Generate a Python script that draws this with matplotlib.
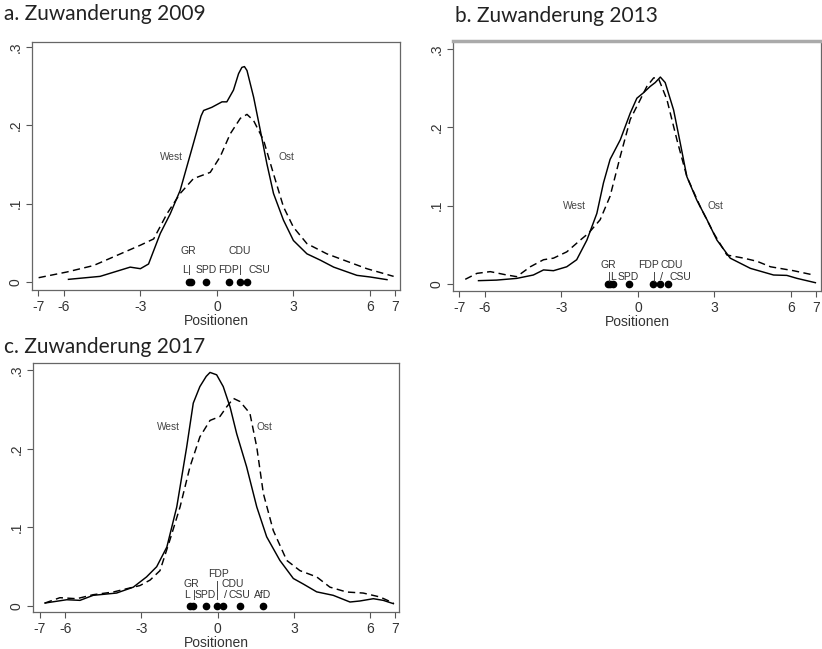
import matplotlib.pyplot as plt
import numpy as np

# Panel a: Zuwanderung 2009
west09_x = [-5.82, -4.58, -3.4, -3.0, -2.68, -2.22, -1.83, -1.44, -0.92, -0.62, -0.52, -0.2, 0.2, 0.39,
            0.65, 0.85, 0.98, 1.08, 1.18, 1.44, 1.7, 1.96, 2.22, 2.61, 3.0, 3.53, 4.05, 4.58, 5.49, 6.01, 6.67]
west09_y = [0.0034, 0.0072, 0.019, 0.017, 0.023, 0.062, 0.087, 0.117, 0.177, 0.212, 0.219, 0.223, 0.230, 0.230,
            0.245, 0.266, 0.274, 0.275, 0.270, 0.236, 0.194, 0.151, 0.113, 0.079, 0.053, 0.036, 0.028, 0.019,
            0.0085, 0.0064, 0.003]
ost09_x = [-6.99, -5.88, -4.84, -3.92, -3.0, -2.48, -1.96, -1.44, -0.92, -0.26, 0.13, 0.52, 0.92,
           1.18, 1.44, 1.83, 2.22, 2.61, 3.0, 3.53, 4.31, 4.97, 5.88, 6.93]
ost09_y = [0.0055, 0.0128, 0.021, 0.034, 0.047, 0.055, 0.087, 0.113, 0.132, 0.140, 0.160, 0.189, 0.209,
           0.214, 0.206, 0.181, 0.138, 0.096, 0.070, 0.049, 0.036, 0.028, 0.017, 0.0072]
party09_x = [-1.11, -1.02, -0.42, 0.47, 0.89, 1.19]

# Panel b: Zuwanderung 2013
west13_x = [-6.25, -5.54, -4.75, -4.1, -3.7, -3.31, -2.79, -2.4, -2.0, -1.61, -1.35, -1.09, -0.69, -0.3,
            -0.04, 0.22, 0.48, 0.68, 0.88, 1.07, 1.4, 1.66, 1.92, 2.31, 2.71, 3.1, 3.62, 4.41, 5.32,
            5.84, 6.24, 6.96]
west13_y = [0.0043, 0.005, 0.0072, 0.0115, 0.018, 0.017, 0.022, 0.031, 0.056, 0.090, 0.129, 0.159, 0.184,
            0.218, 0.237, 0.244, 0.252, 0.257, 0.264, 0.257, 0.222, 0.180, 0.137, 0.107, 0.082, 0.056,
            0.033, 0.020, 0.0115, 0.011, 0.0072, 0.0017]
ost13_x = [-6.77, -6.31, -5.79, -5.14, -4.75, -4.22, -3.7, -3.31, -2.79, -2.26, -1.93, -1.48, -1.09,
           -0.69, -0.3, 0.09, 0.35, 0.62, 0.81, 1.14, 1.53, 1.92, 2.44, 2.97, 3.49, 4.15, 4.67, 5.2,
           6.1, 6.89]
ost13_y = [0.006, 0.0136, 0.0158, 0.0115, 0.0094, 0.022, 0.031, 0.033, 0.041, 0.056, 0.065, 0.082, 0.112,
           0.163, 0.210, 0.235, 0.252, 0.263, 0.262, 0.235, 0.184, 0.137, 0.099, 0.065, 0.037, 0.033,
           0.029, 0.022, 0.017, 0.0115]
party13_x = [-1.19, -1.08, -0.99, -0.35, 0.61, 0.85, 1.2]

# Panel c: Zuwanderung 2017
west17_x = [-6.8, -5.94, -5.42, -4.9, -3.98, -3.32, -2.8, -2.4, -2.0, -1.61, -1.22, -0.96, -0.7, -0.45,
            -0.3, -0.04, 0.22, 0.49, 0.75, 1.14, 1.54, 1.93, 2.45, 2.98, 3.37, 3.9, 4.55, 5.21, 5.6, 6.13,
            6.52, 6.92]
west17_y = [0.0038, 0.008, 0.0072, 0.0136, 0.0165, 0.024, 0.037, 0.050, 0.075, 0.126, 0.202, 0.258,
            0.279, 0.292, 0.297, 0.294, 0.279, 0.253, 0.219, 0.177, 0.126, 0.088, 0.058, 0.035, 0.028,
            0.018, 0.0136, 0.0051, 0.0064, 0.0093, 0.0072, 0.003]
ost17_x = [-6.8, -6.21, -5.55, -4.9, -4.11, -3.58, -3.06, -2.66, -2.27, -1.88, -1.48, -1.09, -0.7, -0.3,
           0.09, 0.35, 0.62, 0.88, 1.27, 1.54, 1.8, 2.19, 2.72, 3.24, 3.9, 4.42, 5.08, 5.73, 6.39, 6.92]
ost17_y = [0.0038, 0.0106, 0.0093, 0.0144, 0.0178, 0.022, 0.026, 0.033, 0.045, 0.084, 0.126, 0.177,
           0.215, 0.236, 0.241, 0.253, 0.264, 0.260, 0.245, 0.202, 0.143, 0.096, 0.058, 0.045, 0.037,
           0.024, 0.0178, 0.0165, 0.0115, 0.0038]
party17_x = [-1.09, -0.98, -0.47, -0.04, 0.2, 0.88, 1.77]

xticks = [-7, -6, -3, 0, 3, 6, 7]
yticks = [0, 0.1, 0.2, 0.3]
ytick_labels = ['0', '.1', '.2', '.3']

# label text, x, y
labels09 = [('GR', -1.11, 0.040), ('L', -1.24, 0.015), ('SPD', -0.42, 0.015), ('FDP', 0.47, 0.015),
            ('CDU', 0.89, 0.040), ('CSU', 1.67, 0.015)]
labels13 = [('GR', -1.15, 0.024), ('L', -0.98, 0.0094), ('SPD', -0.37, 0.0094), ('FDP', 0.42, 0.024),
            ('CDU', 1.33, 0.024), ('CSU', 1.66, 0.0094)]
labels17 = [('GR', -1.02, 0.028), ('L', -1.22, 0.0136), ('SPD', -0.5, 0.0136), ('FDP', 0.03, 0.041),
            ('CDU', 0.58, 0.028), ('CSU', 0.85, 0.0136), ('AfD', 1.77, 0.0136)]
# connector glyphs between stacked labels
marks09 = [('|', -1.08, 0.015), ('|', 0.92, 0.015)]
marks13 = [('|', -1.13, 0.0094), ('|', 0.64, 0.0094), ('/', 0.94, 0.0094)]
marks17 = [('|', -0.93, 0.0136), ('|', -0.02, 0.0136), ('|', -0.02, 0.026), ('/', 0.33, 0.0136)]

W, H = 822, 649
fig = plt.figure(figsize=(W / 100, H / 100), dpi=100)
plt.rcParams['font.family'] = ['Liberation Sans', 'DejaVu Sans']


def panel(box, xlim, ylim, wx, wy, ox, oy, party, labels, marks, wpos, opos, title, tpos, top_grey=False):
    l, t, r, b = box
    ax = fig.add_axes([l / W, 1 - b / H, (r - l) / W, (b - t) / H])
    ax.plot(wx, wy, color='black', lw=1.05)
    ax.plot(ox, oy, color='black', lw=1.05, ls=(0, (5, 3)))
    ax.plot(party, [0] * len(party), 'o', color='black', ms=4.5)
    for s, x, y in labels:
        ax.text(x, y, s, fontsize=7.5, color='#333333', ha='center', va='center')
    for s, x, y in marks:
        ax.text(x, y, s, fontsize=8, color='#333333', ha='center', va='center')
    ax.text(wpos[0], wpos[1], 'West', fontsize=7.3, color='#444444', ha='center', va='center')
    ax.text(opos[0], opos[1], 'Ost', fontsize=7.3, color='#444444', ha='center', va='center')
    ax.set_xlim(*xlim)
    ax.set_ylim(*ylim)
    ax.set_xticks(xticks)
    ax.set_xticklabels([str(v) for v in xticks], fontsize=10, color='#333333')
    ax.set_yticks(yticks)
    ax.set_yticklabels(ytick_labels, fontsize=10, color='#333333', rotation=90, va='center')
    ax.tick_params(length=4, width=0.8, color='#555555', pad=3)
    ax.set_xlabel('Positionen', fontsize=10, color='#333333', labelpad=0)
    for sp in ax.spines.values():
        sp.set_color('#666666')
        sp.set_linewidth(0.9)
    if top_grey:
        ax.spines['top'].set_color('#aaaaaa')
        ax.spines['top'].set_linewidth(2.5)
    fig.text(tpos[0] / W, 1 - tpos[1] / H, title, fontsize=15, family='Lato', color='#222222',
             ha='left', va='center')
    return ax


panel((32, 42, 400, 290), (-7.25, 7.18), (-0.0102, 0.3064), west09_x, west09_y, ost09_x, ost09_y,
      party09_x, labels09, marks09, (-1.8, 0.16), (2.72, 0.16), 'a. Zuwanderung 2009', (4, 14))
panel((453, 41, 821, 291), (-7.25, 7.18), (-0.0089, 0.310), west13_x, west13_y, ost13_x, ost13_y,
      party13_x, labels13, marks13, (-2.48, 0.099), (3.03, 0.099), 'b. Zuwanderung 2013', (455, 16),
      top_grey=True)
panel((33, 363, 399, 612), (-7.27, 7.14), (-0.0076, 0.309), west17_x, west17_y, ost17_x, ost17_y,
      party17_x, labels17, marks17, (-1.94, 0.228), (1.86, 0.228), 'c. Zuwanderung 2017', (4, 347))

fig.savefig('out.png', dpi=100)
